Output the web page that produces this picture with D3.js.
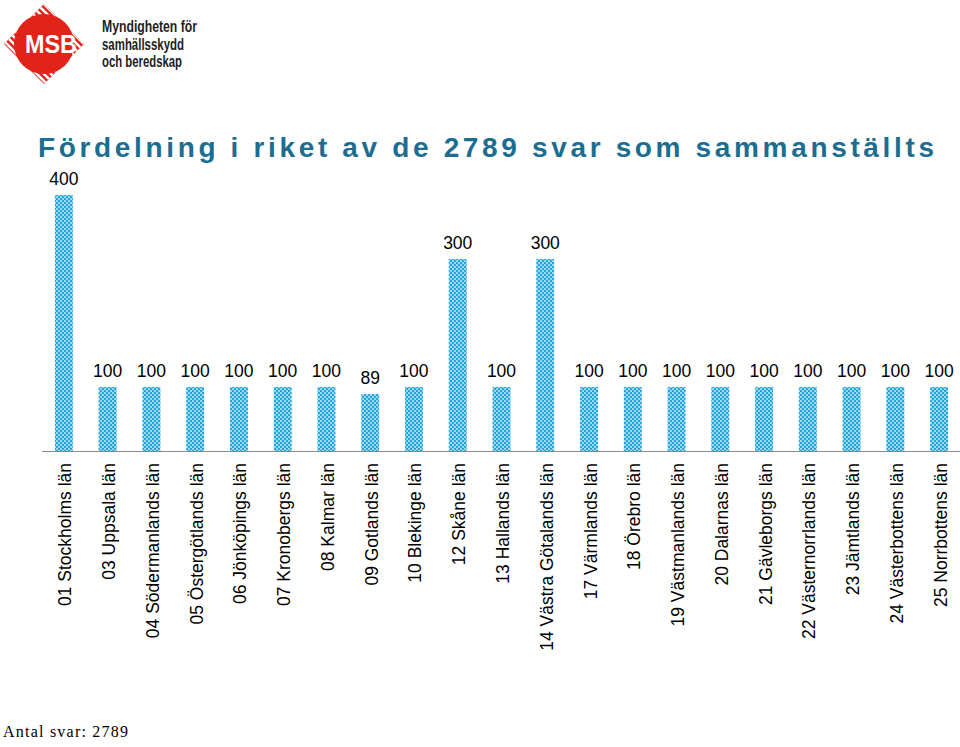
<!DOCTYPE html>
<html><head><meta charset="utf-8">
<script src="https://cdn.jsdelivr.net/npm/d3@7"></script>
<style>body{margin:0;background:#fff}svg{display:block}</style>
</head><body>
<script>
const categories = ["01 Stockholms län","03 Uppsala län","04 Södermanlands län","05 Östergötlands län","06 Jönköpings län","07 Kronobergs län","08 Kalmar län","09 Gotlands län","10 Blekinge län","12 Skåne län","13 Hallands län","14 Västra Götalands län","17 Värmlands län","18 Örebro län","19 Västmanlands län","20 Dalarnas län","21 Gävleborgs län","22 Västernorrlands län","23 Jämtlands län","24 Västerbottens län","25 Norrbottens län"];
const values = [400,100,100,100,100,100,100,89,100,300,100,300,100,100,100,100,100,100,100,100,100];
const title = "Fördelning i riket av de 2789 svar som sammanställts";
const footer = "Antal svar: 2789";
const logoLines = ["Myndigheten för","samhällsskydd","och beredskap"];

const W=960,H=747;
const svg=d3.select("body").append("svg").attr("width",W).attr("height",H);
const defs=svg.append("defs");
const pat=defs.append("pattern").attr("id","dots").attr("patternUnits","userSpaceOnUse").attr("width",4).attr("height",4);
pat.append("rect").attr("width",4).attr("height",4).attr("fill","#22a6de");
pat.append("rect").attr("x",0).attr("y",0).attr("width",2).attr("height",2).attr("fill","#fff").attr("opacity",0.55);
pat.append("rect").attr("x",2).attr("y",2).attr("width",2).attr("height",2).attr("fill","#fff").attr("opacity",0.55);

// logo
const lg=svg.append("g");
defs.append("clipPath").attr("id","dia").append("path").attr("d","M44,4 L84,44 L44,84 L4,44 Z");
const dg=lg.append("g").attr("clip-path","url(#dia)");
dg.append("rect").attr("x",0).attr("y",0).attr("width",90).attr("height",90).attr("fill","#e2231a");
for(let k=-100;k<200;k+=7){
  dg.append("line").attr("x1",k).attr("y1",0).attr("x2",k+90).attr("y2",90).attr("stroke","#fff").attr("stroke-width",2.6);
}
lg.append("circle").attr("cx",44).attr("cy",44).attr("r",30).attr("fill","#e2231a");
lg.append("text").attr("x",51).attr("y",53).attr("text-anchor","middle").attr("font-family","Liberation Sans, Arial, sans-serif").attr("font-size",25).attr("font-weight","bold").attr("fill","#fff").attr("textLength",52).attr("lengthAdjust","spacingAndGlyphs").text("MSB");
const lw=[95,82,80];
logoLines.forEach((t,i)=>{
  lg.append("text").attr("x",102).attr("y",32+i*17.5).attr("font-family","Liberation Sans, Arial, sans-serif").attr("font-size",16).attr("font-weight","bold").attr("fill","#1e1e1e").attr("textLength",lw[i]).attr("lengthAdjust","spacingAndGlyphs").text(t);
});

// title
svg.append("text").attr("x",38).attr("y",157).attr("font-family","Liberation Sans, Arial, sans-serif").attr("font-size",28).attr("font-weight","bold").attr("fill","#1c6e91").attr("textLength",896).attr("lengthAdjust","spacing").text(title);

const x=d3.scaleBand().domain(categories).range([42,961]).paddingInner(0.59).paddingOuter(0.295);
const y=d3.scaleLinear().domain([0,400]).range([451,195]);

svg.selectAll("rect.bar").data(values).join("rect").attr("class","bar")
  .attr("x",(d,i)=>x(categories[i])).attr("width",x.bandwidth())
  .attr("y",d=>y(d)).attr("height",d=>y(0)-y(d)).attr("fill","url(#dots)");

svg.append("line").attr("x1",42).attr("x2",960).attr("y1",451.5).attr("y2",451.5).attr("stroke","#8a8a8a").attr("stroke-width",1);

svg.selectAll("text.val").data(values).join("text").attr("class","val")
  .attr("x",(d,i)=>x(categories[i])+x.bandwidth()/2).attr("y",d=>y(d)-10)
  .attr("text-anchor","middle").attr("font-family","Liberation Sans, Arial, sans-serif").attr("font-size",17.5).attr("fill","#000")
  .text(d=>d);

svg.selectAll("text.cat").data(categories).join("text").attr("class","cat")
  .attr("transform",d=>`translate(${x(d)+x.bandwidth()/2+7.5},463) rotate(-90)`)
  .attr("text-anchor","end").attr("font-family","Liberation Sans, Arial, sans-serif").attr("font-size",17.5).attr("fill","#000")
  .text(d=>d);

svg.append("text").attr("x",3).attr("y",737).attr("font-family","Liberation Serif, Times New Roman, serif").attr("font-size",16).attr("fill","#000").attr("textLength",125).attr("lengthAdjust","spacing").text(footer);
</script>
</body></html>
